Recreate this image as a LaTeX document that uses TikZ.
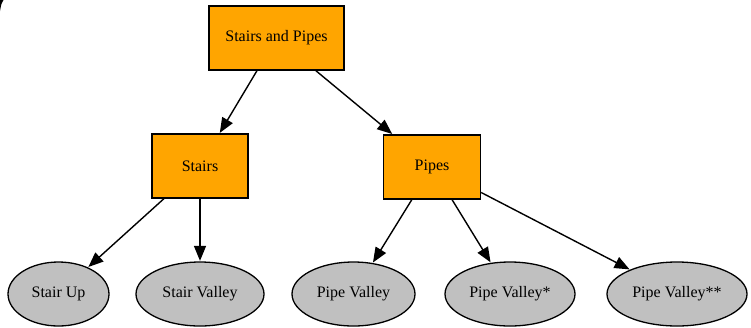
\documentclass[tikz,border=0pt]{standalone}
\usepackage{fontspec}
\newfontfamily\labelfont{Liberation Serif}
\usetikzlibrary{arrows.meta,shapes.geometric}

\definecolor{boxorange}{HTML}{FFA500}
\definecolor{leafgray}{HTML}{C0C0C0}

\tikzset{
  group/.style={draw=black, line width=1.4pt, fill=boxorange, rectangle,
    minimum height=64pt, inner sep=0pt, font=\labelfont\fontsize{16}{19}\selectfont},
  leaf/.style={draw=black, line width=1.3pt, fill=leafgray, ellipse,
    minimum height=64pt, inner sep=0pt, font=\labelfont\fontsize{16}{19}\selectfont},
  link/.style={draw=black, line width=1.4pt,
    -{Triangle[length=15pt,width=12pt]}, shorten >=0.5pt}
}

\begin{document}
\begin{tikzpicture}[x=1pt,y=-1pt]
  % canvas
  \fill[white] (0,0) rectangle (751,327);
  \useasboundingbox (0,0) rectangle (751,327);
  \fill[black] (0,0) -- (3.5,0) .. controls (1.5,3) .. (0,11) -- cycle;

  % category boxes
  \node[group, minimum width=135pt] (root)   at (276.5,38) {Stairs and Pipes};
  \node[group, minimum width=96pt]  (stairs) at (200,166) {Stairs};
  \node[group, minimum width=97pt]  (pipes)  at (432,167) {Pipes};

  % leaves
  \node[leaf, minimum width=101pt] (up)      at (58.5,294) {Stair Up};
  \node[leaf, minimum width=128pt] (svalley) at (200,294) {Stair Valley};
  \node[leaf, minimum width=123pt] (pv1)     at (353.5,294) {Pipe Valley};
  \node[leaf, minimum width=130pt] (pv2)     at (510,294) {Pipe Valley*};
  \node[leaf, minimum width=140pt] (pv3)     at (677,294) {Pipe Valley**};

  % connectors
  \draw[link] (root) -- (stairs);
  \draw[link] (root) -- (pipes);
  \draw[link] (stairs) -- (up);
  \draw[link] (stairs) -- (svalley);
  \draw[link] (pipes) -- (pv1);
  \draw[link] (pipes) -- (pv2);
  \draw[link] (pipes) -- (pv3);
\end{tikzpicture}
\end{document}
